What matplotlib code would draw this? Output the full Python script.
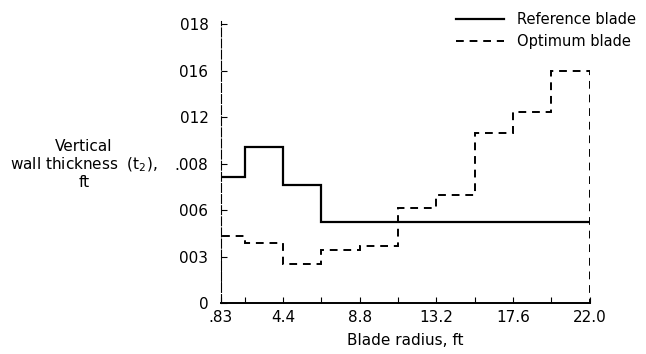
import matplotlib.pyplot as plt

# blade stations (ft) and vertical wall thickness t2 (ft)
ref_edges = [0.83, 2.2, 4.4, 6.6, 22.0]
ref_t2 = [0.0081, 0.0101, 0.0076, 0.0052]

opt_edges = [0.83, 2.2, 4.4, 6.6, 8.8, 11.0, 13.2, 15.4, 17.6, 19.8, 22.0]
opt_t2 = [0.0043, 0.0039, 0.0025, 0.0034, 0.0037, 0.0061, 0.0070, 0.0110, 0.0123, 0.0150]

x_ticks = [0.83, 4.4, 8.8, 13.2, 17.6, 22.0]
x_labels = ['.83', '4.4', '8.8', '13.2', '17.6', '22.0']
x_minor = [2.2, 6.6, 11.0, 15.4, 19.8]
y_ticks = [0, 0.003, 0.006, 0.009, 0.012, 0.015, 0.018]
y_labels = ['0', '003', '006', '.008', '012', '016', '018']

plt.rcParams['font.family'] = ['DejaVu Sans']

fig = plt.figure(figsize=(6.46, 3.54), dpi=100)
ax = fig.add_axes([0.342, 0.144, 0.571, 0.788])

ax.stairs(ref_t2, ref_edges, baseline=None, color='black', lw=1.6, label='Reference blade')
ax.stairs(opt_t2, opt_edges, baseline=0, color='black', lw=1.4,
          linestyle=(0, (4, 3)), label='Optimum blade')

ax.set_xlim(0.83, 22.0)
ax.set_ylim(0, 0.018)
ax.spines['top'].set_visible(False)
ax.spines['right'].set_visible(False)
ax.spines['left'].set_linewidth(0.8)
ax.spines['left'].set_linestyle((0, (8, 2)))
ax.spines['left'].set_bounds(0, 0.0182)
ax.spines['bottom'].set_linewidth(1.4)

ax.set_xticks(x_ticks)
ax.set_xticklabels(x_labels)
ax.set_xticks(x_minor, minor=True)
ax.set_yticks(y_ticks)
ax.set_yticklabels(y_labels)
ax.tick_params(axis='both', direction='in', length=4, width=0.8, labelsize=11)
ax.tick_params(axis='x', which='minor', direction='in', length=4, width=0.8)
ax.tick_params(axis='y', pad=9)
ax.tick_params(axis='x', pad=5)

ax.set_xlabel('Blade radius, ft', fontsize=11, labelpad=6)
fig.text(0.13, 0.535, 'Vertical\nwall thickness  (t$_2$),\nft', ha='center', va='center',
         fontsize=11, linespacing=1.1)

fig.legend(loc='upper left', bbox_to_anchor=(0.69, 0.995), frameon=False, fontsize=10.5,
           handlelength=3.3, handletextpad=0.9, labelspacing=0.5, borderpad=0.2)

plt.savefig('out.png', dpi=100)
plt.close()
